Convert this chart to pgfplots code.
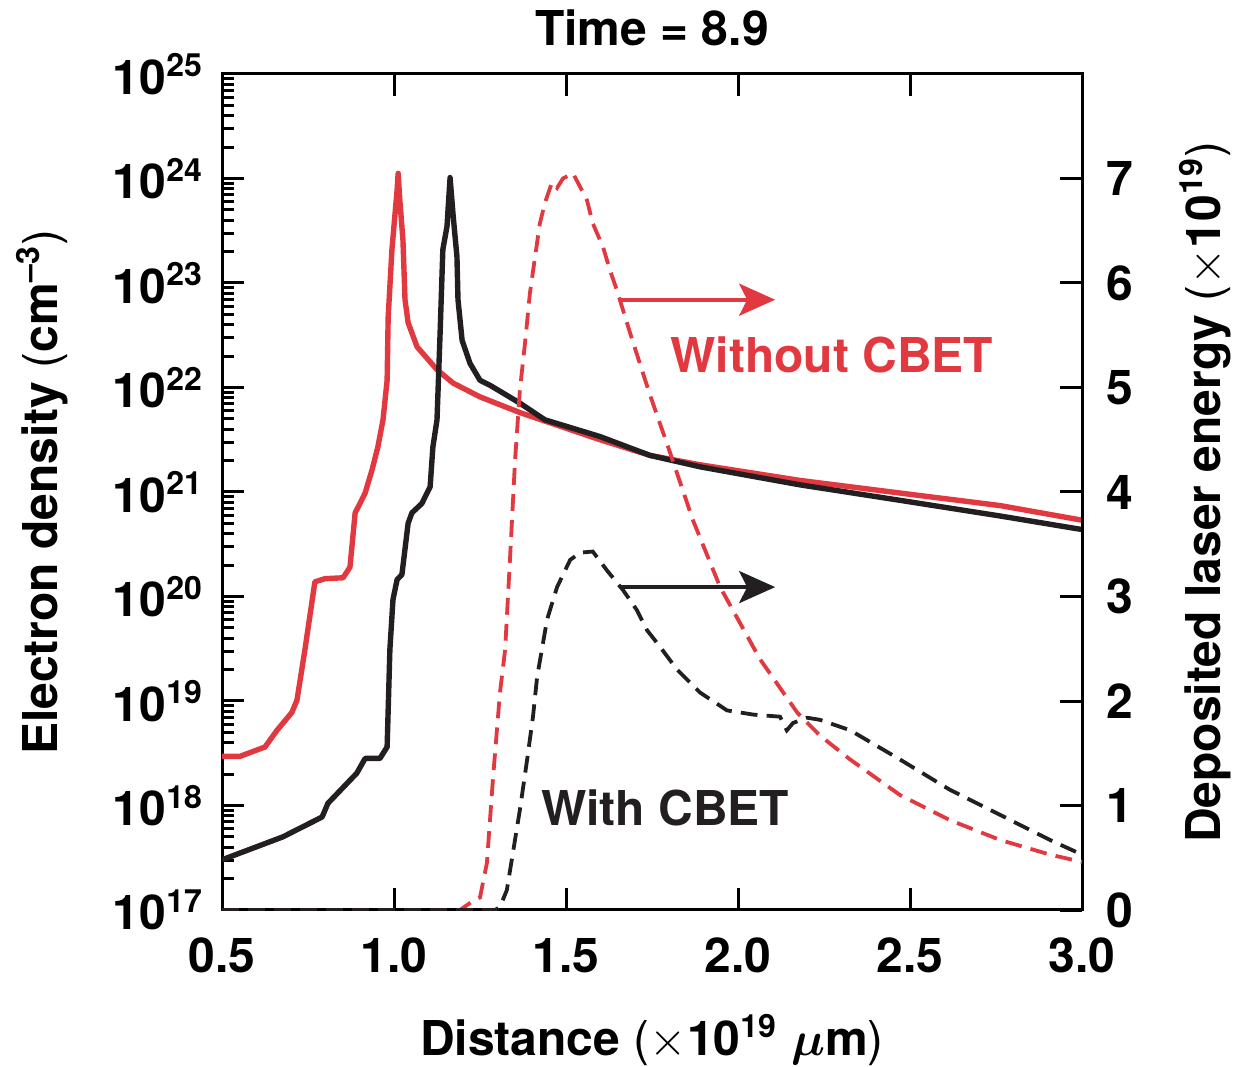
\documentclass[border=0pt]{standalone}
\usepackage{fontspec}
\setmainfont{TeX Gyre Heros}
\usepackage{pgfplots}
\pgfplotsset{compat=1.18}
\usetikzlibrary{arrows.meta}
\definecolor{cred}{RGB}{226,56,64}
\definecolor{cblk}{RGB}{35,31,32}

\pgfplotstableread{
x y
0.500 2.95e18
0.552 2.95e18
0.625 3.63e18
0.660 5.25e18
0.703 7.76e18
0.718 1.02e19
0.741 3.09e19
0.770 1.38e20
0.799 1.48e20
0.852 1.51e20
0.872 1.91e20
0.887 6.31e20
0.901 7.76e20
0.916 9.77e20
0.936 1.62e21
0.953 2.69e21
0.968 4.90e21
0.980 1.17e22
0.983 4.68e22
0.994 2.09e23
1.009 7.76e23
1.012 1.12e24
1.017 6.17e23
1.026 2.57e23
1.032 6.92e22
1.041 4.17e22
1.067 2.45e22
1.125 1.48e22
1.172 1.10e22
1.250 8.13e21
1.366 5.75e21
1.599 3.16e21
1.744 2.24e21
1.890 1.82e21
2.180 1.29e21
2.471 9.77e20
2.762 7.41e20
3.000 5.37e20
}\redsolid

\pgfplotstableread{
x y
0.500 3.02e17
0.677 5.01e17
0.791 7.76e17
0.808 1.05e18
0.892 2.04e18
0.916 2.82e18
0.959 2.82e18
0.980 3.63e18
0.988 3.09e19
0.997 9.33e19
1.009 1.45e20
1.023 1.62e20
1.041 5.01e20
1.052 6.31e20
1.081 7.76e20
1.105 1.12e21
1.113 2.69e21
1.125 4.90e21
1.134 3.31e22
1.142 2.09e23
1.154 3.47e23
1.163 1.02e24
1.172 4.37e23
1.183 1.78e23
1.186 6.92e22
1.198 2.82e22
1.221 1.70e22
1.250 1.17e22
1.279 1.05e22
1.366 7.08e21
1.439 4.90e21
1.599 3.39e21
1.744 2.24e21
1.890 1.74e21
2.180 1.17e21
2.471 8.32e20
2.762 5.89e20
3.000 4.37e20
}\blacksolid

\pgfplotstableread{
x y
0.500 0.00
1.192 0.00
1.235 0.10
1.250 0.12
1.270 0.45
1.288 1.27
1.308 2.08
1.323 2.49
1.337 3.35
1.352 4.31
1.366 4.98
1.381 5.43
1.395 5.90
1.410 6.25
1.424 6.57
1.439 6.77
1.459 6.96
1.474 6.91
1.491 7.00
1.520 7.05
1.541 6.92
1.561 6.79
1.578 6.57
1.608 6.34
1.628 6.12
1.648 5.93
1.677 5.62
1.695 5.43
1.744 4.93
1.800 4.40
1.869 3.73
1.948 3.09
2.064 2.40
2.172 1.89
2.238 1.67
2.326 1.44
2.471 1.10
2.616 0.86
2.762 0.67
2.907 0.53
3.000 0.46
}\reddash

\pgfplotstableread{
x y
0.500 0.00
1.294 0.00
1.308 0.03
1.328 0.19
1.366 0.96
1.387 1.44
1.404 1.85
1.416 2.23
1.445 2.78
1.474 3.09
1.512 3.35
1.541 3.42
1.578 3.43
1.619 3.25
1.666 3.06
1.706 2.87
1.735 2.68
1.773 2.52
1.823 2.30
1.890 2.08
1.968 1.91
2.044 1.87
2.122 1.85
2.142 1.72
2.160 1.79
2.201 1.84
2.238 1.82
2.326 1.72
2.471 1.44
2.616 1.15
2.762 0.91
2.907 0.67
3.000 0.53
}\blackdash

\newcommand{\bfont}{\fontsize{12}{14}\selectfont\bfseries}
\newcommand{\tms}{{\mdseries$\times$}}
\begin{document}
\begin{tikzpicture}
\pgfplotsset{
  common/.style={
    scale only axis, width=215pt, height=209pt,
    xmin=0.5, xmax=3,
    tick align=inside,
    major tick length=5.5pt, minor tick length=3pt,
    axis line style={line width=0.75pt, black},
    every tick/.style={line width=0.75pt, black},
    tick label style={font=\bfont},
  }
}
\begin{axis}[common, name=ax,
  ymode=log, ymin=1e17, ymax=1e25,
  xtick={0.5,1,1.5,2,2.5,3},
  xticklabels={0.5,1.0,1.5,2.0,2.5,3.0},
  ytick={1e17,1e18,1e19,1e20,1e21,1e22,1e23,1e24,1e25},
  yticklabels={10\textsuperscript{17},10\textsuperscript{18},10\textsuperscript{19},10\textsuperscript{20},10\textsuperscript{21},10\textsuperscript{22},10\textsuperscript{23},10\textsuperscript{24},10\textsuperscript{25}},
  ytick pos=left, xtick pos=both,
  yticklabel style={xshift=-1pt},
  xticklabel style={yshift=-3.5pt},
  xlabel={Distance {\mdseries(}\tms10\textsuperscript{19} {\boldmath$\mu$}m{\mdseries)}},
  ylabel={Electron density {\mdseries(}cm\textsuperscript{–3}{\mdseries)}},
  every axis x label/.style={at={(axis description cs:0.5,-0.1555)}, anchor=center, font=\bfont},
  every axis y label/.style={at={(axis description cs:-0.209,0.5)}, rotate=90, anchor=center, font=\bfont},
  title={Time = 8.9},
  every axis title/.style={at={(axis description cs:0.5,1.055)}, anchor=center, font=\bfont},
]
\addplot[cred, line width=1.35pt, line join=round] table[x=x,y=y] {\redsolid};
\addplot[cblk, line width=1.35pt, line join=round] table[x=x,y=y] {\blacksolid};
\end{axis}
\begin{axis}[common,
  ymin=0, ymax=8,
  axis x line=none, axis y line*=right,
  ytick={0,1,2,3,4,5,6,7},
  yticklabels={0,1,2,3,4,5,6,7},
  yticklabel style={xshift=2.5pt},
  ylabel={Deposited laser energy {\mdseries(}\tms10\textsuperscript{19}{\mdseries)}},
  every axis y label/.style={at={(axis description cs:1.143,0.5)}, rotate=90, anchor=center, font=\bfont},
]
\addplot[cred, line width=0.95pt, dash pattern=on 4.2pt off 2.3pt] table[x=x,y=y] {\reddash};
\addplot[cblk, line width=0.95pt, dash pattern=on 4.2pt off 2.3pt] table[x=x,y=y] {\blackdash};
\draw[cred, line width=1pt, -{Stealth[length=9pt,width=8pt,inset=2pt]}] (axis cs:1.657,5.84) -- (axis cs:2.108,5.84);
\draw[cblk, line width=1pt, -{Stealth[length=9pt,width=8pt,inset=2pt]}] (axis cs:1.657,3.09) -- (axis cs:2.108,3.09);
\node[cred, font=\bfont] at (axis cs:2.273,5.31) {Without CBET};
\node[cblk, font=\bfont] at (axis cs:1.788,0.98) {With CBET};
\end{axis}
\pgfresetboundingbox
\path ([shift={(-55.5pt,-39pt)}]ax.south west) rectangle ([shift={(37.75pt,18.5pt)}]ax.north east);
\end{tikzpicture}
\end{document}
